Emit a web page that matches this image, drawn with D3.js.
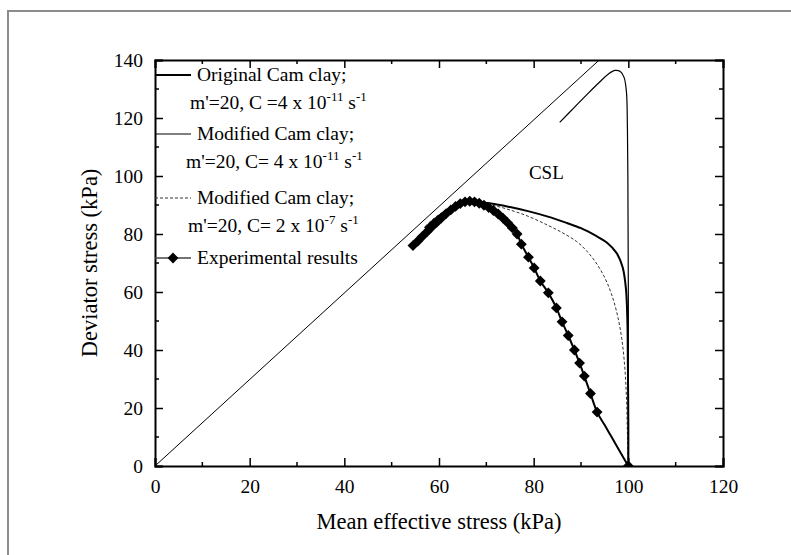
<!DOCTYPE html>
<html>
<head>
<meta charset="utf-8">
<script src="https://cdn.jsdelivr.net/npm/d3@7"></script>
<style>
  html, body { margin: 0; padding: 0; background: #fff; }
  svg { display: block; font-family: "Liberation Serif", "Times New Roman", serif; }
</style>
</head>
<body>
<svg id="chart" width="791" height="555"></svg>
<script>
// ---- data ----
const cslP = [0, 120];
const cslQ = [0, 179];

// original Cam clay, m'=20, C=4e-11
const origP = [57, 59, 61.5, 64, 67, 71, 75, 79, 83, 87, 90, 93, 95.5, 97.5, 98.8, 99.5, 99.8, 99.9, 100, 100];
const origQ = [82, 85, 88, 90, 91, 90.5, 89.3, 87.8, 86, 83.8, 82, 79.5, 77, 73.5, 68.5, 61, 50, 35, 15, 0];

// modified Cam clay, m'=20, C=4e-11
const mccP = [85.5, 88.5, 91.5, 94, 95.8, 97.2, 98.3, 99.1, 99.6, 99.8, 99.9, 100, 100];
const mccQ = [118.5, 123.5, 128.5, 132.5, 135.2, 136.4, 136, 134, 129, 117, 100, 60, 0];

// modified Cam clay, m'=20, C=2e-7
const mcc2P = [57, 59, 61.5, 64, 67, 71, 75, 79, 83, 86, 89, 91, 93, 95, 96.5, 97.7, 98.6, 99.2, 99.6, 99.8, 100];
const mcc2Q = [82.5, 85.5, 88.2, 90, 90.8, 90, 88.3, 86, 83, 80.5, 77.5, 74.5, 70.5, 65, 59, 52, 44, 35, 24, 12, 0];

// experimental results
const expP = [54.5, 55.5, 56.5, 57.5, 58.5, 59.5, 60.5, 61.5, 62.5, 63.5, 64.5, 65.5, 66.5, 67.5, 68.5, 69.5, 70.5, 71.5, 72.5, 73.5, 74.5, 75.5, 76.5, 77.4, 78.9, 80.1, 81.4, 83.1, 84.8, 86, 87.3, 88.6, 89.7, 90.7, 92, 93.4, 95, 96.5, 98, 99, 100];
const expQ = [76, 77.5, 79.2, 80.8, 82.5, 84, 85.5, 87, 88.3, 89.5, 90.5, 91.1, 91.3, 91.1, 90.6, 89.9, 89.1, 88.1, 86.9, 85.5, 83.9, 82.1, 80, 76.5, 72, 68.3, 63.8, 59.7, 54.5, 49.7, 45, 40, 35.5, 31, 25, 18.6, 14.1, 9.9, 5.6, 2.8, 0];
const expMarked = 36; // diamonds on the first points, plain line to the end

const xTicks = [0, 20, 40, 60, 80, 100, 120];
const yTicks = [0, 20, 40, 60, 80, 100, 120, 140];

const legendItems = [
  { style: "orig", line1: "Original Cam clay;", line2: ["m'=20, C =4 x 10", "-11", " s", "-1"] },
  { style: "mcc",  line1: "Modified Cam clay;", line2: ["m'=20, C= 4 x 10", "-11", " s", "-1"] },
  { style: "mcc2", line1: "Modified Cam clay;", line2: ["m'=20, C= 2 x 10", "-7", " s", "-1"] },
  { style: "exp",  line1: "Experimental results", line2: null }
];

// ---- layout ----
const svg = d3.select("#chart");
const margin = { left: 155, top: 60, right: 68, bottom: 89 };
const W = 791, H = 555;
const iw = W - margin.left - margin.right;
const ih = H - margin.top - margin.bottom;

const x = d3.scaleLinear().domain([0, 120]).range([0, iw]);
const y = d3.scaleLinear().domain([0, 140]).range([ih, 0]);

// outer grey frame
svg.append("rect")
  .attr("x", 8).attr("y", 11)
  .attr("width", W).attr("height", H)
  .attr("fill", "none").attr("stroke", "#8c8c8c").attr("stroke-width", 2);

const g = svg.append("g").attr("transform", `translate(${margin.left},${margin.top})`);

g.append("clipPath").attr("id", "clip")
  .append("rect").attr("width", iw).attr("height", ih);

const plot = g.append("g").attr("clip-path", "url(#clip)");

const zip = (a, b) => a.map((v, i) => [v, b[i]]);
const lineLin = d3.line().x(d => x(d[0])).y(d => y(d[1]));
const lineSmooth = d3.line().x(d => x(d[0])).y(d => y(d[1])).curve(d3.curveCatmullRom.alpha(0.5));

// CSL
plot.append("path").attr("d", lineLin(zip(cslP, cslQ)))
  .attr("fill", "none").attr("stroke", "#000").attr("stroke-width", 1);

// model curves
plot.append("path").attr("d", lineSmooth(zip(mcc2P, mcc2Q)))
  .attr("fill", "none").attr("stroke", "#333").attr("stroke-width", 1)
  .attr("stroke-dasharray", "3,2");

plot.append("path").attr("d", lineSmooth(zip(origP, origQ)))
  .attr("fill", "none").attr("stroke", "#000").attr("stroke-width", 2);

plot.append("path").attr("d", lineSmooth(zip(mccP, mccQ)))
  .attr("fill", "none").attr("stroke", "#000").attr("stroke-width", 1.2);

// experimental
const expData = zip(expP, expQ);
plot.append("path").attr("d", lineSmooth(expData))
  .attr("fill", "none").attr("stroke", "#000").attr("stroke-width", 2);

const diamond = d3.symbol().type(d3.symbolDiamond2 || d3.symbolDiamond).size(75);
plot.selectAll(".mk").data(expData.slice(0, expMarked).concat([expData[expData.length - 1]]))
  .join("path").attr("class", "mk")
  .attr("transform", d => `translate(${x(d[0])},${y(d[1])})`)
  .attr("d", diamond).attr("fill", "#000");

// CSL label
g.append("text").attr("x", x(79)).attr("y", y(99))
  .attr("font-size", 19).text("CSL");

// ---- axes ----
const tickLen = 8, minorLen = 4;
const xMinor = d3.range(10, 120, 20);
const yMinor = d3.range(10, 140, 20);

const xb = g.append("g").attr("transform", `translate(0,${ih})`)
  .call(d3.axisBottom(x).tickValues(xTicks).tickSize(-tickLen).tickPadding(13));
const xt = g.append("g")
  .call(d3.axisTop(x).tickValues(xTicks).tickSize(-tickLen).tickFormat(""));
const yl = g.append("g")
  .call(d3.axisLeft(y).tickValues(yTicks).tickSize(-tickLen).tickPadding(12));
const yr = g.append("g").attr("transform", `translate(${iw},0)`)
  .call(d3.axisRight(y).tickValues(yTicks).tickSize(-tickLen).tickFormat(""));

[xb, xt, yl, yr].forEach(a => {
  a.select(".domain").attr("stroke-width", 2).attr("stroke", "#000");
  a.selectAll(".tick line").attr("stroke-width", 1.5).attr("stroke", "#000");
  a.selectAll("text").attr("font-family", "Liberation Serif").attr("font-size", 19.5).attr("fill", "#000");
});

// minor ticks
xMinor.forEach(v => {
  g.append("line").attr("x1", x(v)).attr("x2", x(v)).attr("y1", ih).attr("y2", ih - minorLen)
    .attr("stroke", "#000").attr("stroke-width", 1.5);
  g.append("line").attr("x1", x(v)).attr("x2", x(v)).attr("y1", 0).attr("y2", minorLen)
    .attr("stroke", "#000").attr("stroke-width", 1.5);
});
yMinor.forEach(v => {
  g.append("line").attr("x1", 0).attr("x2", minorLen).attr("y1", y(v)).attr("y2", y(v))
    .attr("stroke", "#000").attr("stroke-width", 1.5);
  g.append("line").attr("x1", iw).attr("x2", iw - minorLen).attr("y1", y(v)).attr("y2", y(v))
    .attr("stroke", "#000").attr("stroke-width", 1.5);
});

// axis titles
g.append("text").attr("x", iw / 2).attr("y", ih + 63)
  .attr("text-anchor", "middle").attr("font-size", 22.5)
  .text("Mean effective stress (kPa)");
g.append("text")
  .attr("transform", `translate(-58,${ih / 2}) rotate(-90)`)
  .attr("text-anchor", "middle").attr("font-size", 22.5)
  .text("Deviator stress (kPa)");

// ---- legend ----
const leg = g.append("g");
const rowY = [15, 74, 138, 198];
legendItems.forEach((it, i) => {
  const yy = rowY[i];
  const ln = leg.append("line").attr("x1", 0).attr("x2", 36).attr("y1", yy).attr("y2", yy)
    .attr("stroke", "#000");
  if (it.style === "orig") ln.attr("stroke-width", 2);
  if (it.style === "mcc") ln.attr("stroke-width", 1.2);
  if (it.style === "mcc2") ln.attr("stroke-width", 1).attr("stroke", "#333").attr("stroke-dasharray", "3,2");
  if (it.style === "exp") {
    ln.attr("stroke-width", 1.5).attr("stroke", "#444");
    leg.append("path").attr("transform", `translate(18,${yy})`).attr("d", diamond).attr("fill", "#000");
  }
  leg.append("text").attr("x", 42).attr("y", yy + 6).attr("font-size", 19.5).text(it.line1);
  if (it.line2) {
    const t = leg.append("text").attr("x", [35, 31, 33][i]).attr("y", yy + 34)
      .attr("font-size", 19.5);
    t.append("tspan").text(it.line2[0]);
    t.append("tspan").attr("dy", -8).attr("font-size", 13).text(it.line2[1]);
    t.append("tspan").attr("dy", 8).text(it.line2[2]);
    t.append("tspan").attr("dy", -8).attr("font-size", 13).text(it.line2[3]);
  }
});
</script>
</body>
</html>
